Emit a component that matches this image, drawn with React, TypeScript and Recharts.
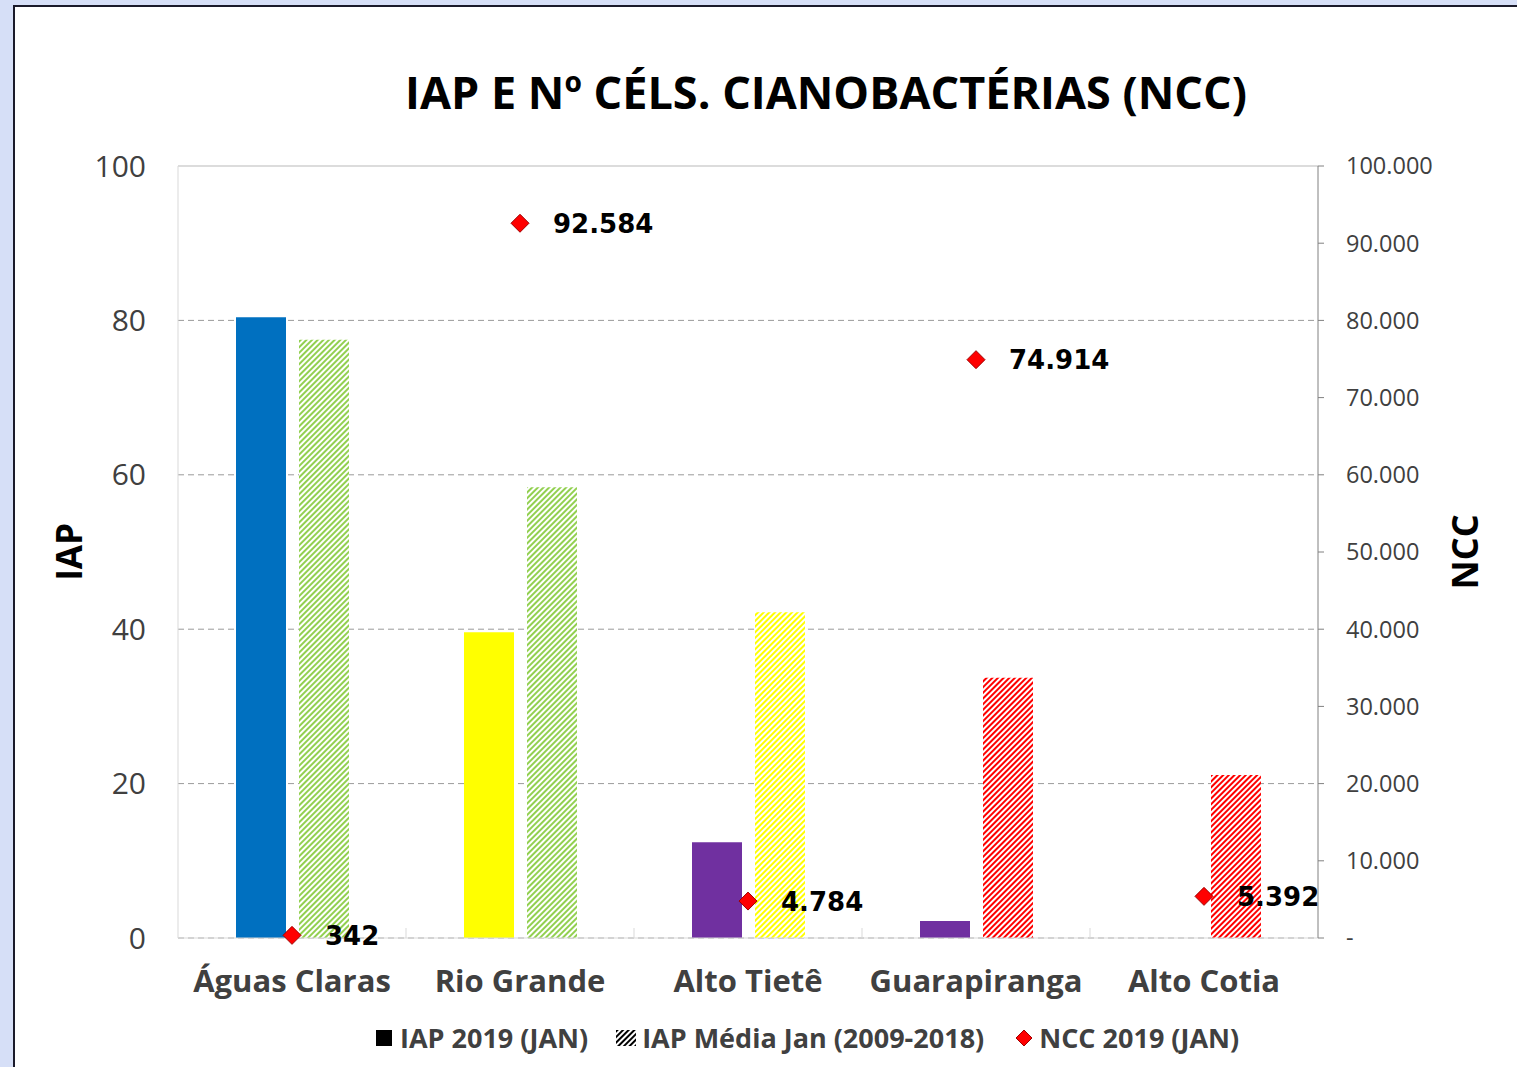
import React from 'react';
import { ComposedChart, Bar, Scatter, Cell, XAxis, YAxis, CartesianGrid, ReferenceLine } from 'recharts';

const categories = ['Águas Claras', 'Rio Grande', 'Alto Tietê', 'Guarapiranga', 'Alto Cotia'];
const iap2019 = [80.4, 39.6, 12.4, 2.2, null];
const iapMedia = [77.5, 58.4, 42.2, 33.7, 21.1];
const ncc2019 = [342, 92584, 4784, 74914, 5392];

const iapColors = ['#0070C0', '#FFFF00', '#7030A0', '#7030A0', '#7030A0'];
const mediaPatterns = ['hatchGreen', 'hatchGreen', 'hatchYellow', 'hatchRed', 'hatchRed'];

const iapTicks = [0, 20, 40, 60, 80, 100];
const nccTicks = [0, 10000, 20000, 30000, 40000, 50000, 60000, 70000, 80000, 90000, 100000];

const data = categories.map((name, i) => ({
  name,
  iap: iap2019[i],
  media: iapMedia[i],
  ncc: ncc2019[i],
}));

// thousands with "." like the pt-BR original
const fmt = (v: number) => String(Math.round(v)).replace(/\B(?=(\d{3})+(?!\d))/g, '.');

const FONT = '"Open Sans", sans-serif';

const Hatch = ({ id, color }: { id: string; color: string }) => (
  <pattern id={id} width={4} height={4} patternUnits="userSpaceOnUse" patternTransform="rotate(45)">
    <rect x={0} y={0} width={4} height={4} fill="#fff" />
    <rect x={0} y={0} width={2} height={4} fill={color} />
  </pattern>
);

const CategoryTick = (props: any) => {
  const { x, y, payload, index, width } = props;
  const half = (width || 1140) / categories.length / 2;
  return (
    <g>
      {index > 0 && <line x1={x - half} x2={x - half} y1={y - 10} y2={y} stroke="#d9d9d9" />}
      <text x={x} y={y + 46} textAnchor="middle" dominantBaseline="middle"
        fontFamily={FONT} fontWeight={700} fontSize={31} fill="#404040">
        {payload.value}
      </text>
    </g>
  );
};

const NccPoint = (props: any) => {
  const { cx, cy, payload } = props;
  if (cx == null || cy == null) return null;
  const s = 9;
  return (
    <g>
      <polygon
        points={`${cx},${cy - s} ${cx + s},${cy} ${cx},${cy + s} ${cx - s},${cy}`}
        fill="#FF0000" stroke="#A00000" strokeWidth={1}
      />
      <text x={cx + 33} y={cy + 2} dominantBaseline="middle" fontFamily="DejaVu Sans"
        fontWeight={700} fontSize={26} fill="#000">
        {fmt(payload.ncc)}
      </text>
    </g>
  );
};

export default function App() {
  return (
    <div style={{ position: 'absolute', left: 0, top: 0, width: 1517, height: 1067, overflow: 'hidden', background: '#d6dff7', fontFamily: FONT }}>
      <svg width={0} height={0} style={{ position: 'absolute' }}>
        <defs>
          <Hatch id="hatchGreen" color="#92D050" />
          <Hatch id="hatchYellow" color="#FFFF00" />
          <Hatch id="hatchRed" color="#FF0000" />
          <Hatch id="hatchBlack" color="#000" />
        </defs>
      </svg>
      <div style={{ position: 'absolute', left: 13, top: 5, width: 1600, height: 1200, background: '#fff', border: '2px solid #1a1a2a' }} />
      <div style={{ position: 'absolute', left: 0, top: 61, width: 1652, textAlign: 'center', fontSize: 45, fontWeight: 700, color: '#000' }}>
        IAP E Nº CÉLS. CIANOBACTÉRIAS (NCC)
      </div>
      <div style={{ position: 'absolute', left: 0, top: 0 }}>
        <ComposedChart
          width={1517}
          height={1067}
          data={data}
          margin={{ top: 166, right: 0, left: 20, bottom: 59 }}
          barSize={50}
          barGap={13}
        >
          <CartesianGrid yAxisId="left" vertical={false} stroke="#9a9a9a" strokeDasharray="6 4" />
          <XAxis dataKey="name" height={70} tickSize={0} tickMargin={0} tickLine={false}
            axisLine={{ stroke: '#d9d9d9' }} tick={<CategoryTick />} interval={0} />
          <YAxis yAxisId="left" width={158} domain={[0, 100]} ticks={iapTicks} tickLine={false}
            axisLine={{ stroke: '#d9d9d9' }} tickMargin={26}
            tick={{ fill: '#404040', fontSize: 30, fontFamily: FONT }}
            label={{ value: 'IAP', angle: -90, position: 'center', dx: -29,
              style: { fill: '#000', fontWeight: 700, fontSize: 35, fontFamily: FONT } }} />
          <YAxis yAxisId="right" orientation="right" width={199} domain={[0, 100000]} ticks={nccTicks}
            axisLine={{ stroke: '#808080' }} tickLine={{ stroke: '#808080' }} tickSize={6} tickMargin={22}
            tickFormatter={(v: number) => (v === 0 ? '-' : fmt(v))}
            tick={{ fill: '#404040', fontSize: 23.5, fontFamily: FONT }}
            label={{ value: 'NCC', angle: -90, position: 'center', dx: 48,
              style: { fill: '#000', fontWeight: 700, fontSize: 36, fontFamily: FONT } }} />
          <Bar yAxisId="left" dataKey="iap" isAnimationActive={false}>
            {data.map((_, i) => <Cell key={i} fill={iapColors[i]} />)}
          </Bar>
          <Bar yAxisId="left" dataKey="media" isAnimationActive={false}>
            {data.map((_, i) => <Cell key={i} fill={`url(#${mediaPatterns[i]})`} />)}
          </Bar>
          <ReferenceLine yAxisId="left" y={100} stroke="#dcdcdc" strokeWidth={2} />
          <Scatter yAxisId="right" dataKey="ncc" isAnimationActive={false} shape={<NccPoint />} />
        </ComposedChart>
      </div>
      <div style={{ position: 'absolute', left: 376, top: 1019, display: 'flex', alignItems: 'center', fontSize: 27, fontWeight: 700, color: '#404040', whiteSpace: 'nowrap' }}>
        <span style={{ display: 'inline-block', width: 16, height: 16, background: '#000', marginRight: 8 }} />
        <span>IAP 2019 (JAN)</span>
        <svg width={20} height={16} style={{ marginLeft: 28, marginRight: 6 }}>
          <rect width={20} height={16} fill="url(#hatchBlack)" />
        </svg>
        <span>IAP Média Jan (2009-2018)</span>
        <svg width={18} height={18} style={{ marginLeft: 31, marginRight: 6 }}>
          <polygon points="9,1 17,9 9,17 1,9" fill="#FF0000" stroke="#A00000" />
        </svg>
        <span>NCC 2019 (JAN)</span>
      </div>
    </div>
  );
}
